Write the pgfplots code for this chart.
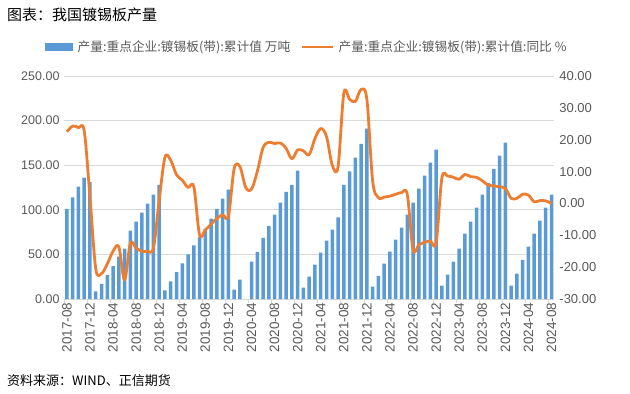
\documentclass[border=0pt]{standalone}
\usepackage{fontspec}
\setmainfont{Liberation Sans}
\newfontfamily\cjk{Noto Sans CJK SC}
\usepackage{pgfplots}
\usepackage{pgfplotstable}
\pgfplotsset{compat=1.18}
\definecolor{barblue}{HTML}{5B9BD5}
\definecolor{lineorange}{HTML}{ED7D31}
\definecolor{txtgray}{HTML}{595959}
\definecolor{gridgray}{HTML}{D9D9D9}

\pgfplotstableread{
i v
0 101
1 114
2 126
3 136
4 131
5 8.5
6 17
7 27
8 37
9 47.5
10 56.5
11 76.6
12 86.7
13 96.8
14 107
15 117
16 128
17 9.7
18 19.8
19 30
20 40
21 50
22 60
23 69.5
24 79
25 90
26 101
27 112.5
28 122.6
29 10.4
30 21.6
32 42
33 52.7
34 68.5
35 82
36 94.6
37 108
38 120
39 128
40 144
41 12.7
42 25
43 38.5
44 52
45 65.4
46 77.8
47 91.6
48 128
49 143
50 158.6
51 174
52 191
53 13.8
54 26
55 39.6
56 53
57 66.5
58 80
59 94.6
60 108
61 123.8
62 138.4
63 153
64 167.5
65 15
66 27.3
67 41.9
68 56.4
69 73.3
70 86.7
71 102.5
72 117
73 130
74 146
75 160.8
76 175.4
77 15
78 28.4
79 44
80 58.7
81 73.3
82 87.9
83 102.5
84 117
}\bardata

\pgfplotstableread{
i v
0 22.5
1 24.3
2 23.8
3 22.8
4 2
5 -20.5
6 -22
7 -19
8 -15
9 -13.6
10 -24
11 -12.5
12 -14
13 -15
14 -15
15 -14
16 1
17 14.5
18 13.5
19 9
20 7.3
21 5
22 5.2
23 -9.9
24 -8.3
25 -6.5
26 -4.7
27 -3.6
28 -4
29 11
30 11.5
31 5
32 4.5
33 10
34 17.5
35 19.2
36 18.8
37 19
38 17.3
39 14
40 16.8
41 16.5
42 15.3
43 20.4
44 23.5
45 21
46 12
47 11.5
48 34.6
49 32.7
50 32
51 35.8
52 32.6
53 7
54 1.8
55 2
56 2.3
57 2.9
58 3.4
59 2.8
60 -14.6
61 -13
62 -12.2
63 -11.8
64 -12.3
65 8
66 8.6
67 8.2
68 7.6
69 9.1
70 8.4
71 8.2
72 7.1
73 5.8
74 5.5
75 5.2
76 4.7
77 1.6
78 1.6
79 2.9
80 2.6
81 0.5
82 0.9
83 0.8
84 0
}\yoydata

\begin{document}
\begin{tikzpicture}
\path[use as bounding box] (0,0) rectangle (630bp,-394bp);
% title
\node[anchor=west, inner sep=0pt, font=\cjk\fontsize{15bp}{17bp}\selectfont] at (7bp,-15bp) {图表：我国镀锡板产量};
% legend
\fill[barblue] (44.5bp,-43bp) rectangle (72.5bp,-51bp);
\node[anchor=west, inner sep=0pt, text=txtgray, font=\cjk\fontsize{12.7bp}{14bp}\selectfont] at (77.5bp,-47bp) {产量:重点企业:镀锡板(带):累计值 万吨};
\draw[lineorange, line width=2.8bp] (302bp,-47bp) -- (333bp,-47bp);
\node[anchor=west, inner sep=0pt, text=txtgray, font=\cjk\fontsize{12.7bp}{14bp}\selectfont] at (338.5bp,-47bp) {产量:重点企业:镀锡板(带):累计值:同比 \%};
% source
\node[anchor=west, inner sep=0pt, font=\cjk\fontsize{13bp}{15bp}\selectfont] at (7bp,-381bp) {资料来源：WIND、正信期货};

\begin{axis}[
  at={(64bp,-299bp)}, anchor=south west,
  scale only axis, width=490.4bp, height=223bp,
  xmin=-0.5, xmax=84.5, ymin=0, ymax=250,
  axis x line*=bottom, axis y line*=left,
  x axis line style={-, draw=gridgray, line width=0.9bp},
  y axis line style={draw=none},
  ytick={0,50,...,250},
  ymajorgrids, grid style={gridgray, line width=0.75bp},
  ytick style={draw=none},
  scaled y ticks=false,
  yticklabel style={text=txtgray, font=\fontsize{12.5bp}{14bp}\selectfont, xshift=-1bp,
    /pgf/number format/.cd, fixed, fixed zerofill, precision=2, assume math mode=true},
  xtick={0,4,...,84},
  xticklabels={2017-08,2017-12,2018-04,2018-08,2018-12,2019-04,2019-08,2019-12,2020-04,2020-08,2020-12,2021-04,2021-08,2021-12,2022-04,2022-08,2022-12,2023-04,2023-08,2023-12,2024-04,2024-08},
  xticklabel style={rotate=90, anchor=east, text=txtgray, font=\fontsize{13.5bp}{15bp}\selectfont},
  tick align=outside,
  major tick length=0pt,
  xtick style={draw=gridgray, line width=0.9bp},
  extra x ticks={-0.5,3.5,...,83.5},
  extra x tick labels={},
  extra x tick style={major tick length=4bp, xtick style={draw=gridgray, line width=0.9bp}},
]
\addplot[ybar, bar width=3.5bp, fill=barblue, draw=none] table[x=i, y=v] {\bardata};
\end{axis}

\begin{axis}[
  at={(64bp,-299bp)}, anchor=south west,
  scale only axis, width=490.4bp, height=223bp,
  xmin=-0.5, xmax=84.5, ymin=-30, ymax=40,
  axis y line*=right, axis x line=none,
  y axis line style={draw=none},
  ytick={-30,-20,...,40},
  ytick style={draw=none},
  major tick length=0pt,
  yticklabel style={text=txtgray, font=\fontsize{13bp}{15bp}\selectfont, xshift=1.5bp,
    /pgf/number format/.cd, fixed, fixed zerofill, precision=2, assume math mode=true},
]
\addplot[lineorange, line width=2.8bp, smooth, tension=0.55, line join=round] table[x=i, y=v] {\yoydata};
\end{axis}
\end{tikzpicture}
\end{document}
